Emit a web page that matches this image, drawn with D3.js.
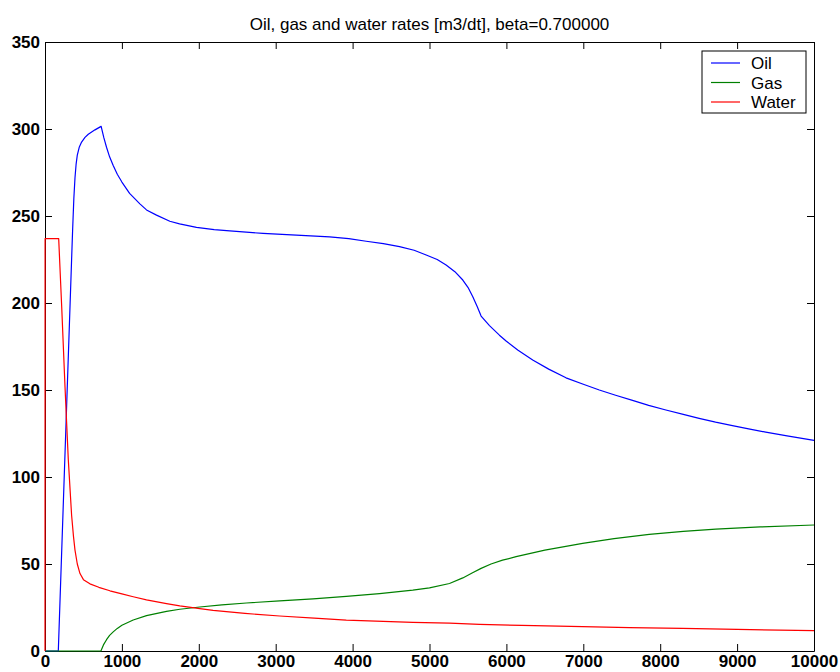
<!DOCTYPE html>
<html>
<head>
<meta charset="utf-8">
<script src="https://cdn.jsdelivr.net/npm/d3@7"></script>
<style>
  html, body { margin: 0; padding: 0; background: #fff; }
  svg { display: block; }
  .tick text { font-family: "Liberation Sans", Arial, Helvetica, sans-serif; font-weight: bold; font-size: 17px; fill: #000; }
</style>
</head>
<body>
<svg id="chart" width="840" height="672"></svg>
<script>
// Production rates over time for one reservoir run
const titleText = "Oil, gas and water rates [m3/dt], beta=0.700000";
const seriesNames = ["Oil", "Gas", "Water"];
const seriesColors = ["#0000ff", "#008000", "#ff0000"];

const xTicks = [0, 1000, 2000, 3000, 4000, 5000, 6000, 7000, 8000, 9000, 10000];
const yTicks = [0, 50, 100, 150, 200, 250, 300, 350];

const oilTime = [0, 173, 346, 360, 375, 390, 405, 420, 445, 476, 520, 563, 650, 730, 765, 800, 840, 887, 940, 1000, 1100, 1234, 1320, 1450, 1623, 1750, 1970, 2200, 2403, 2835, 3268, 3701, 3950, 4177, 4400, 4610, 4800, 4957, 5100, 5216, 5330, 5433, 5500, 5563, 5620, 5671, 5780, 5909, 6000, 6147, 6342, 6550, 6775, 7000, 7208, 7420, 7640, 7850, 8074, 8300, 8506, 8720, 8939, 9150, 9372, 9650, 10000];
const oilRate = [0, 0, 225, 243, 260, 272, 280, 285, 289.5, 292.5, 295.2, 297, 299.5, 301.5, 295, 289.5, 284, 279, 274, 269.5, 263, 257, 253.5, 250.5, 247, 245.5, 243.5, 242.2, 241.4, 240, 239, 238, 237, 235.5, 234.1, 232.4, 230.3, 227.6, 225, 221.8, 218, 213.2, 209, 203.6, 198, 192.5, 187, 181.5, 178, 173, 167.2, 162, 157, 153.3, 150, 147, 144, 141.2, 138.5, 136, 133.7, 131.5, 129.5, 127.7, 125.8, 123.6, 121];

const gasTime = [0, 727, 760, 800, 840, 887, 940, 1000, 1147, 1320, 1580, 1753, 2013, 2300, 2619, 3052, 3485, 3918, 4351, 4783, 5000, 5260, 5433, 5560, 5671, 5800, 5950, 6126, 6500, 6991, 7400, 7857, 8300, 8723, 9300, 10000];
const gasRate = [0, 0, 3.5, 6.5, 9, 11, 13, 14.8, 17.8, 20.3, 22.8, 24, 25.3, 26.5, 27.6, 28.8, 30, 31.4, 33, 35, 36.3, 38.8, 42, 45, 47.5, 50, 52.2, 54.2, 58, 61.9, 64.6, 67, 68.7, 70, 71.3, 72.4];

const waterTime = [0, 1, 178, 217, 260, 303, 346, 370, 390, 420, 455, 500, 584, 700, 844, 1000, 1147, 1320, 1580, 1753, 2013, 2186, 2600, 3052, 3500, 3918, 4783, 5260, 5650, 6200, 6991, 7600, 8290, 9000, 10000];
const waterRate = [0, 237, 237, 198, 152, 110, 78, 66, 58, 50, 44.5, 41, 38.6, 36.6, 34.6, 32.8, 31.2, 29.4, 27.2, 25.9, 24.3, 23.3, 21.6, 20.1, 18.9, 17.8, 16.5, 16, 15.3, 14.7, 14, 13.4, 13, 12.4, 11.7];

const seriesTimes = [oilTime, gasTime, waterTime];
const seriesRates = [oilRate, gasRate, waterRate];

const svg = d3.select("#chart");
const margin = { left: 45, right: 26, top: 42, bottom: 21 };
const W = 840, H = 672;
const plotW = W - margin.left - margin.right;
const plotH = H - margin.top - margin.bottom;

const x = d3.scaleLinear().domain([0, 10000]).range([margin.left, margin.left + plotW]);
const y = d3.scaleLinear().domain([0, 350]).range([margin.top + plotH, margin.top]);

const sans = "'Liberation Sans', Arial, Helvetica, sans-serif";

// Title
svg.append("text")
  .attr("x", margin.left + plotW / 2)
  .attr("y", 30)
  .attr("text-anchor", "middle")
  .attr("font-family", sans)
  .attr("font-size", 17)
  .attr("fill", "#000")
  .text(titleText);

// Axes box with inward ticks on all four sides
const axisStyle = g => {
  g.selectAll(".domain").attr("stroke", "#000").attr("stroke-width", 1);
  g.selectAll(".tick line").attr("stroke", "#000").attr("stroke-width", 1);
};

svg.append("g")
  .attr("transform", `translate(0,${margin.top + plotH})`)
  .call(d3.axisBottom(x).tickValues(xTicks).tickFormat(d3.format("d")).tickSizeInner(-7).tickSizeOuter(0).tickPadding(4))
  .call(axisStyle);

svg.append("g")
  .attr("transform", `translate(0,${margin.top})`)
  .call(d3.axisTop(x).tickValues(xTicks).tickFormat("").tickSizeInner(-7).tickSizeOuter(0))
  .call(axisStyle);

svg.append("g")
  .attr("transform", `translate(${margin.left},0)`)
  .call(d3.axisLeft(y).tickValues(yTicks).tickFormat(d3.format("d")).tickSizeInner(-7).tickSizeOuter(0).tickPadding(5))
  .call(axisStyle);

svg.append("g")
  .attr("transform", `translate(${margin.left + plotW},0)`)
  .call(d3.axisRight(y).tickValues(yTicks).tickFormat("").tickSizeInner(-7).tickSizeOuter(0))
  .call(axisStyle);

svg.selectAll(".tick text").attr("font-family", null).attr("font-size", null);

// Rate curves
const line = d3.line().x(d => x(d[0])).y(d => y(d[1]));
seriesNames.forEach((name, i) => {
  const pts = seriesTimes[i].map((t, k) => [t, seriesRates[i][k]]);
  svg.append("path")
    .datum(pts)
    .attr("fill", "none")
    .attr("stroke", seriesColors[i])
    .attr("stroke-width", 1.2)
    .attr("stroke-linejoin", "round")
    .attr("d", line);
});

// Legend
const legend = svg.append("g").attr("transform", "translate(702,51)");
legend.append("rect")
  .attr("x", 0).attr("y", 0).attr("width", 104).attr("height", 62)
  .attr("fill", "#fff").attr("stroke", "#000").attr("stroke-width", 1);
seriesNames.forEach((name, i) => {
  const yy = 12 + i * 19.5;
  legend.append("line")
    .attr("x1", 9).attr("x2", 38).attr("y1", yy).attr("y2", yy)
    .attr("stroke", seriesColors[i]).attr("stroke-width", 1.2);
  legend.append("text")
    .attr("x", 49).attr("y", yy + 6)
    .attr("font-family", sans)
    .attr("font-size", 17)
    .attr("fill", "#000")
    .text(name);
});
</script>
</body>
</html>
